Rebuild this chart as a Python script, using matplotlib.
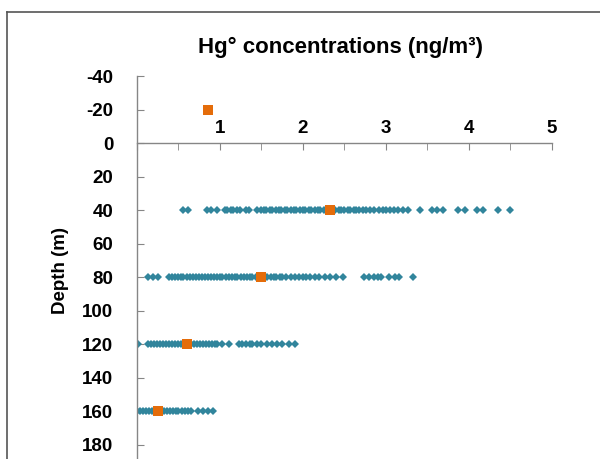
# Perfil de Hg° por profundidade: pontos individuais + média de cada nível
import matplotlib
matplotlib.use("Agg")
import matplotlib.pyplot as plt
from matplotlib.lines import Line2D

plt.rcParams['font.family'] = ['Liberation Sans', 'DejaVu Sans']
plt.rcParams['font.weight'] = 'bold'
plt.rcParams['axes.unicode_minus'] = False

# Dados (ng/m³)
hg_40m = [0.56, 0.61, 0.84, 0.89, 0.97, 1.06, 1.09, 1.13, 1.16, 1.20, 1.24, 1.31, 1.35,
          1.45, 1.49, 1.53, 1.56, 1.60, 1.63, 1.67, 1.71, 1.74, 1.78, 1.81, 1.85, 1.89,
          1.92, 1.96, 2.00, 2.03, 2.07, 2.10, 2.14, 2.18, 2.21, 2.25, 2.28, 2.36, 2.39,
          2.43, 2.46, 2.50, 2.54, 2.57, 2.61, 2.64, 2.68, 2.72, 2.76, 2.81, 2.86, 2.91,
          2.96, 3.00, 3.05, 3.10, 3.15, 3.20, 3.26, 3.41, 3.56, 3.62, 3.69, 3.87, 3.95,
          4.10, 4.17, 4.35, 4.50]
hg_80m = [0.13, 0.19, 0.25, 0.38, 0.42, 0.46, 0.49, 0.53, 0.56, 0.60, 0.64, 0.67, 0.71,
          0.75, 0.78, 0.82, 0.85, 0.89, 0.93, 0.96, 1.00, 1.03, 1.07, 1.11, 1.14, 1.18,
          1.21, 1.25, 1.29, 1.32, 1.36, 1.39, 1.43, 1.47, 1.54, 1.57, 1.61, 1.65, 1.68,
          1.72, 1.75, 1.79, 1.85, 1.90, 1.95, 2.00, 2.04, 2.09, 2.14, 2.19, 2.27, 2.33,
          2.40, 2.48, 2.73, 2.79, 2.85, 2.90, 2.94, 3.04, 3.11, 3.16, 3.33]
hg_120m = [0.01, 0.13, 0.17, 0.20, 0.24, 0.28, 0.31, 0.35, 0.38, 0.42, 0.46, 0.49, 0.53,
           0.56, 0.65, 0.69, 0.72, 0.76, 0.79, 0.83, 0.87, 0.90, 0.94, 0.97, 1.02, 1.11,
           1.23, 1.26, 1.31, 1.36, 1.39, 1.44, 1.49, 1.57, 1.63, 1.69, 1.75, 1.83, 1.90]
hg_160m = [0.00, 0.04, 0.07, 0.11, 0.14, 0.18, 0.22, 0.29, 0.32, 0.36, 0.40, 0.43, 0.47,
           0.50, 0.54, 0.58, 0.61, 0.65, 0.73, 0.79, 0.85, 0.91]

profundidades = [40, 80, 120, 160]
medias_prof = [-20, 40, 80, 120, 160]
medias_hg = [0.86, 2.33, 1.49, 0.60, 0.25]

x_ticks = [0, 1, 2, 3, 4, 5]
x_labels = ['', '1', '2', '3', '4', '5']
y_ticks = list(range(-40, 181, 20))

fig = plt.figure(figsize=(6.0, 4.59), dpi=100)
ax = fig.add_axes([0.2283, -0.0414, 0.6917, 0.8758])

cor_ponto = '#31859C'
cor_media = '#E46C0A'
cor_eixo = '#868686'

for prof, valores in zip(profundidades, [hg_40m, hg_80m, hg_120m, hg_160m]):
    ax.plot(valores, [prof] * len(valores), linestyle='none', marker='D',
            markersize=4.0, color=cor_ponto, markeredgewidth=0)
ax.plot(medias_hg, medias_prof, linestyle='none', marker='s', markersize=7.5,
        color=cor_media, markeredgewidth=0, zorder=3)

ax.set_xlim(0, 5)
ax.set_ylim(200, -40)

# Eixo x no topo, cruzando em profundidade 0
ax.spines['top'].set_position(('data', 0))
ax.spines['bottom'].set_visible(False)
ax.spines['right'].set_visible(False)
for s in ['top', 'left']:
    ax.spines[s].set_color(cor_eixo)
    ax.spines[s].set_linewidth(1)
ax.xaxis.tick_top()
ax.set_xticks(x_ticks)
ax.set_xticklabels(x_labels)
ax.set_xticks([0.5, 1.5, 2.5, 3.5, 4.5], minor=True)
ax.tick_params(axis='x', which='both', direction='in', length=5, color=cor_eixo,
               labelsize=13.5, pad=4)
ax.set_yticks(y_ticks)
ax.tick_params(axis='y', direction='in', length=5, color=cor_eixo,
               labelsize=13.5, pad=17)
ax.patch.set_alpha(0)

ax.set_ylabel('Depth (m)', fontsize=13.5, fontweight='bold')
ax.yaxis.set_label_coords(-0.165, 0.517)

fig.text(0.567, 0.897, 'Hg° concentrations (ng/m³)', ha='center', va='center',
         fontsize=16, fontweight='bold')

# Moldura da área do gráfico
fig.add_artist(Line2D([7 / 600, 7 / 600], [1 - 12 / 459, -0.1], color='#555555', lw=1.2))
fig.add_artist(Line2D([7 / 600, 1.1], [1 - 12 / 459, 1 - 12 / 459], color='#555555', lw=1.2))

fig.savefig('out.png', dpi=100)
plt.close(fig)
